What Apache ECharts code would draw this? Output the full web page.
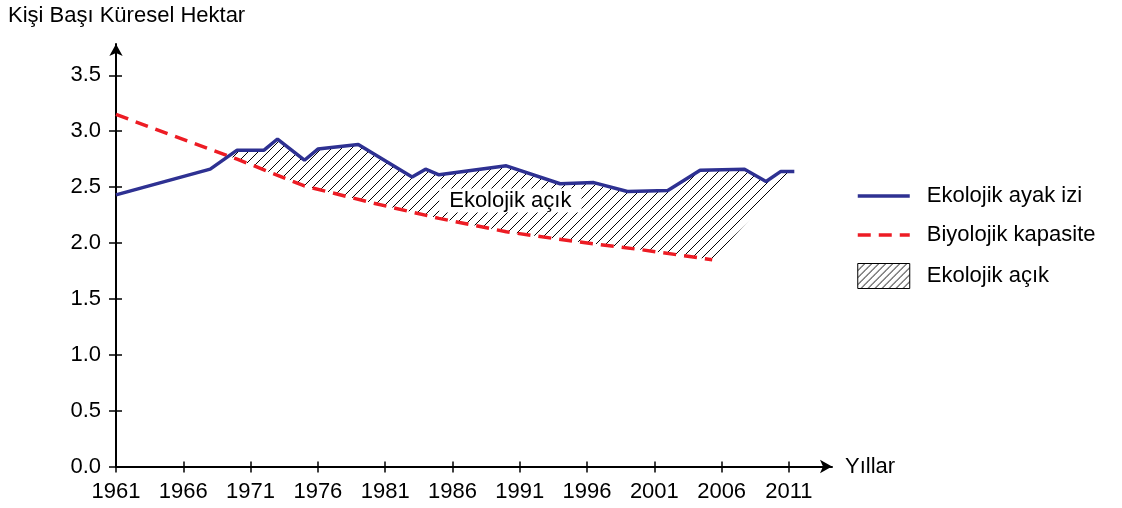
<!DOCTYPE html>
<html>
<head>
<meta charset="utf-8">
<script src="https://cdn.jsdelivr.net/npm/echarts@6/dist/echarts.min.js"></script>
<style>
html, body { margin: 0; padding: 0; background: #fff; }
#main { width: 1122px; height: 508px; }
</style>
</head>
<body>
<div id="main"></div>
<script>
// Ekolojik ayak izi (mavi çizgi)
var footprintYears = [1961, 1968, 1970, 1972, 1973, 1975, 1976, 1979, 1983, 1984, 1985, 1990, 1994, 1996.5, 1999, 2002, 2004.4, 2007.7, 2009.3, 2010.4, 2011.4];
var footprintValues = [2.43, 2.66, 2.83, 2.83, 2.93, 2.74, 2.84, 2.88, 2.59, 2.66, 2.61, 2.69, 2.53, 2.54, 2.46, 2.47, 2.65, 2.66, 2.55, 2.64, 2.64];
// Biyolojik kapasite (kirmizi kesikli)
var capacityYears = [1961, 1965, 1970, 1975, 1980, 1985, 1990, 1995, 2000, 2005.3];
var capacityValues = [3.15, 2.97, 2.75, 2.51, 2.36, 2.22, 2.10, 2.015, 1.94, 1.85];
// eksen etiketleri
var yearTicks = [1961, 1966, 1971, 1976, 1981, 1986, 1991, 1996, 2001, 2006, 2011];
var valueTicks = [0, 0.5, 1.0, 1.5, 2.0, 2.5, 3.0, 3.5];
// alan etiketi konumu
var deficitLabel = [1990.3, 2.38];

var FONT = 'Liberation Sans, Arial, sans-serif';
var BLUE = '#2e3192';
var RED = '#ed1c24';

function zip(xs, ys) {
    return xs.map(function (x, i) { return [x, ys[i]]; });
}

function interp(xs, ys, x) {
    for (var i = 0; i < xs.length - 1; i++) {
        if (x >= xs[i] && x <= xs[i + 1]) {
            var t = (x - xs[i]) / (xs[i + 1] - xs[i]);
            return ys[i] + t * (ys[i + 1] - ys[i]);
        }
    }
    return ys[ys.length - 1];
}

// acik alan: ayak izi kapasiteyi gectigi noktadan itibaren
function deficitPolygon() {
    var start = null;
    for (var i = 0; i < footprintYears.length - 1; i++) {
        var x0 = footprintYears[i], x1 = footprintYears[i + 1];
        var d0 = footprintValues[i] - interp(capacityYears, capacityValues, x0);
        var d1 = footprintValues[i + 1] - interp(capacityYears, capacityValues, x1);
        if (d0 < 0 && d1 >= 0) {
            var t = d0 / (d0 - d1);
            start = {idx: i + 1, x: x0 + t * (x1 - x0), y: footprintValues[i] + t * (footprintValues[i + 1] - footprintValues[i])};
            break;
        }
    }
    var pts = [[start.x, start.y]];
    for (var j = start.idx; j < footprintYears.length; j++) {
        pts.push([footprintYears[j], footprintValues[j]]);
    }
    for (var k = capacityYears.length - 1; k >= 0; k--) {
        if (capacityYears[k] > start.x) pts.push([capacityYears[k], capacityValues[k]]);
    }
    return pts;
}

function hatch(step, color) {
    var c = document.createElement('canvas');
    c.width = step;
    c.height = step;
    var g = c.getContext('2d');
    g.strokeStyle = color;
    g.lineWidth = 1;
    g.beginPath();
    g.moveTo(-1, step + 1);
    g.lineTo(step + 1, -1);
    g.moveTo(-1, 1);
    g.lineTo(1, -1);
    g.moveTo(step - 1, step + 1);
    g.lineTo(step + 1, step - 1);
    g.stroke();
    return {image: c, repeat: 'repeat'};
}

var plotHatch = hatch(10, '#000');
var legendHatch = hatch(7, '#000');

var xMin = 1961, xMax = 2014.2;
var yMin = 0, yMax = 3.78;

var myChart = echarts.init(document.getElementById('main'));
var option = {
    animation: false,
    textStyle: {fontFamily: FONT},
    title: {
        text: 'Kişi Başı Küresel Hektar',
        left: 3,
        top: 0,
        textStyle: {fontSize: 22, fontWeight: 'normal', color: '#000', fontFamily: FONT}
    },
    grid: {left: 116, right: 290, top: 44, bottom: 41.5},
    legend: {
        orient: 'vertical',
        left: 851,
        top: 180,
        itemWidth: 52,
        itemHeight: 25,
        itemGap: 17,
        textStyle: {fontSize: 22, color: '#000', fontFamily: FONT, padding: [0, 0, 0, 12]},
        data: [
            {name: 'Ekolojik ayak izi', itemStyle: {opacity: 0}, lineStyle: {width: 3.5}},
            {name: 'Biyolojik kapasite', itemStyle: {opacity: 0}, lineStyle: {width: 3.5}},
            {name: 'Ekolojik açık', icon: 'rect', itemStyle: {color: legendHatch, borderColor: '#000', borderWidth: 1}}
        ]
    },
    xAxis: [
        {
            type: 'value',
            min: xMin,
            max: xMax,
            name: 'Yıllar',
            nameLocation: 'end',
            nameGap: 13,
            nameTextStyle: {fontSize: 22, color: '#000', fontFamily: FONT},
            axisLine: {lineStyle: {color: '#000', width: 2}, symbol: ['none', 'arrow'], symbolSize: [10, 12]},
            axisTick: {length: 6, lineStyle: {color: '#000', width: 1.5}, customValues: yearTicks},
            axisLabel: {
                customValues: yearTicks, fontSize: 22, color: '#000', margin: 14, fontFamily: FONT,
                formatter: function (v) { return String(v); }
            },
            splitLine: {show: false}
        },
        {
            type: 'value',
            min: xMin,
            max: xMax,
            position: 'top',
            offset: -422.5,
            axisLine: {show: false},
            axisTick: {show: true, length: 5, lineStyle: {color: '#000', width: 1.5}, customValues: yearTicks},
            axisLabel: {show: false},
            splitLine: {show: false}
        }
    ],
    yAxis: [
        {
            type: 'value',
            min: yMin,
            max: yMax,
            axisLine: {show: true, lineStyle: {color: '#000', width: 2}, symbol: ['none', 'arrow'], symbolSize: [10, 12]},
            axisTick: {show: true, length: 7, lineStyle: {color: '#000', width: 1.5}, customValues: valueTicks},
            axisLabel: {
                customValues: valueTicks, fontSize: 22, color: '#000', margin: 15, fontFamily: FONT,
                formatter: function (v) { return v.toFixed(1); }
            },
            splitLine: {show: false}
        },
        {
            type: 'value',
            min: yMin,
            max: yMax,
            position: 'right',
            offset: -716,
            axisLine: {show: false},
            axisTick: {show: true, length: 6, lineStyle: {color: '#000', width: 1.5}, customValues: valueTicks},
            axisLabel: {show: false},
            splitLine: {show: false}
        }
    ],
    series: [
        {
            name: 'Ekolojik açık',
            type: 'custom',
            xAxisIndex: 0,
            yAxisIndex: 0,
            z: 1,
            silent: true,
            itemStyle: {color: legendHatch},
            data: [deficitLabel],
            renderItem: function (params, api) {
                var pts = deficitPolygon().map(function (p) { return api.coord(p); });
                var c = api.coord([api.value(0), api.value(1)]);
                return {
                    type: 'group',
                    children: [
                        {type: 'polygon', shape: {points: pts}, style: {fill: plotHatch, stroke: null}},
                        {
                            type: 'text', x: c[0], y: c[1],
                            style: {
                                text: 'Ekolojik açık', fontSize: 22, fontFamily: FONT, fill: '#000',
                                backgroundColor: '#fff', padding: [1, 10], align: 'center', verticalAlign: 'middle'
                            }
                        }
                    ]
                };
            }
        },
        {
            name: 'Ekolojik ayak izi',
            type: 'line',
            xAxisIndex: 0,
            yAxisIndex: 0,
            z: 3,
            symbol: 'none',
            lineStyle: {color: BLUE, width: 3.5},
            itemStyle: {color: BLUE},
            data: zip(footprintYears, footprintValues)
        },
        {
            name: 'Biyolojik kapasite',
            type: 'line',
            xAxisIndex: 0,
            yAxisIndex: 0,
            z: 2,
            symbol: 'none',
            lineStyle: {color: RED, width: 3.5, type: [13, 8]},
            itemStyle: {color: RED},
            data: zip(capacityYears, capacityValues)
        }
    ]
};
myChart.setOption(option);
</script>
</body>
</html>
